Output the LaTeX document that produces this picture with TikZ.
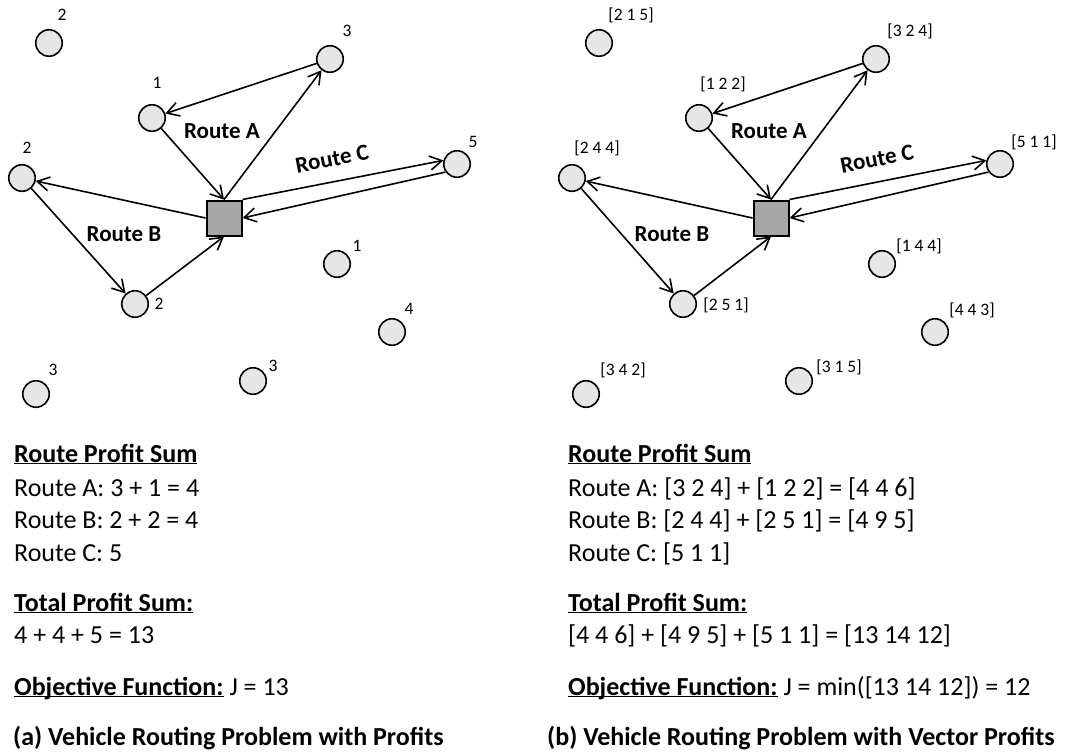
\documentclass[tikz,border=0pt]{standalone}
\usepackage{fontspec}
\setmainfont{Carlito}
\usetikzlibrary{arrows.meta}

\definecolor{custgray}{RGB}{230,230,230}
\definecolor{depotgray}{RGB}{166,166,166}
\newcommand{\hdr}[1]{\underline{\smash{#1}}}

\tikzset{
	cust/.style={circle, draw, line width=1.6pt, fill=custgray, minimum size=26.5pt, inner sep=0pt},
	depotbox/.style={rectangle, draw, line width=2pt, fill=depotgray, minimum size=35pt, inner sep=0pt},
	profit/.style={inner sep=0pt, font=\fontsize{17.5}{20}\selectfont},
	route/.style={-{Straight Barb[length=12pt,width=14pt,line width=1.6pt]}, line width=1.6pt},
	routelbl/.style={inner sep=0pt, font=\fontsize{23}{27}\selectfont\bfseries},
	txt/.style={anchor=base west, inner sep=0pt, font=\fontsize{26}{31}\selectfont},
	title/.style={anchor=base west, inner sep=0pt, font=\fontsize{26}{31}\selectfont\bfseries},
}

\begin{document}
\begin{tikzpicture}[x=1pt, y=-1pt]
	\useasboundingbox (0,0) rectangle (1072,753);

	% (a) Customers and depot
	\node[cust] (a1) at (49,43) {};
	\node[cust] (a2) at (330,59) {};
	\node[cust] (a3) at (152,118) {};
	\node[cust] (a4) at (22,178) {};
	\node[cust] (a5) at (457,164) {};
	\node[cust] (a6) at (135,304) {};
	\node[cust] (a7) at (337,264) {};
	\node[cust] (a8) at (392,332) {};
	\node[cust] (a9) at (36,394) {};
	\node[cust] (a10) at (253,381) {};
	\node[depotbox] (aD) at (224,218) {};

	% (a) Profits
	\node[profit] (a1p) at (62,15) {2};
	\node[profit] (a2p) at (347,31) {3};
	\node[profit] (a3p) at (157,83) {1};
	\node[profit] (a4p) at (27,148) {2};
	\node[profit] (a5p) at (473,142) {5};
	\node[profit] (a6p) at (159,304) {2};
	\node[profit] (a7p) at (357,246) {1};
	\node[profit] (a8p) at (409,309) {4};
	\node[profit] (a9p) at (53,370) {3};
	\node[profit] (a10p) at (273,366) {3};

	% (a) Routes
	\draw[route] (aD.north) -- (a2);
	\draw[route] (a2) -- (a3);
	\draw[route] (a3) -- (aD.north);
	\draw[route] (aD.west) -- (a4);
	\draw[route] (a4) -- (a6);
	\draw[route] (a6) -- (aD.south);
	\draw[route] (aD.north east) -- (a5.165);
	\draw[route] (a5.215) -- (aD.east);
	\node[routelbl] (aRA) at (222,131) {Route A};
	\node[routelbl] (aRB) at (124,234) {Route B};
	\node[routelbl, rotate=11] (aRC) at (332,159) {Route C};

	% (a) Sums
	\node[txt] (aT1) at (14,462) {\bfseries\hdr{Route Profit Sum}};
	\node[txt] (aT2) at (14,496) {Route A: 3 + 1 = 4};
	\node[txt] (aT3) at (14,528) {Route B: 2 + 2 = 4};
	\node[txt] (aT4) at (14,561) {Route C: 5};
	\node[txt] (aT5) at (14,611) {\bfseries\hdr{Total Profit Sum:}};
	\node[txt] (aT6) at (14,643) {4 + 4 + 5 = 13};
	\node[txt] (aT7) at (14,695) {{\bfseries\hdr{Objective Function:}} J = 13};
	\node[title] (aT8) at (13,745) {(a) Vehicle Routing Problem with Profits};

	% (b) Customers and depot
	\node[cust] (b1) at (599,43) {};
	\node[cust] (b2) at (876,59) {};
	\node[cust] (b3) at (699,118) {};
	\node[cust] (b4) at (572,178) {};
	\node[cust] (b5) at (1000,164) {};
	\node[cust] (b6) at (683,304) {};
	\node[cust] (b7) at (882,264) {};
	\node[cust] (b8) at (935,332) {};
	\node[cust] (b9) at (586,394) {};
	\node[cust] (b10) at (799,381) {};
	\node[depotbox] (bD) at (771,218) {};

	% (b) Vector profits
	\node[profit] (b1p) at (631,15) {[2 1 5]};
	\node[profit] (b2p) at (910,31) {[3 2 4]};
	\node[profit] (b3p) at (723,84) {[1 2 2]};
	\node[profit] (b4p) at (597,148) {[2 4 4]};
	\node[profit] (b5p) at (1034,142) {[5 1 1]};
	\node[profit] (b6p) at (726,305) {[2 5 1]};
	\node[profit] (b7p) at (919,246) {[1 4 4]};
	\node[profit] (b8p) at (972,310) {[4 4 3]};
	\node[profit] (b9p) at (623,370) {[3 4 2]};
	\node[profit] (b10p) at (839,367) {[3 1 5]};

	% (b) Routes
	\draw[route] (bD.north) -- (b2);
	\draw[route] (b2) -- (b3);
	\draw[route] (b3) -- (bD.north);
	\draw[route] (bD.west) -- (b4);
	\draw[route] (b4) -- (b6);
	\draw[route] (b6) -- (bD.south);
	\draw[route] (bD.north east) -- (b5.165);
	\draw[route] (b5.215) -- (bD.east);
	\node[routelbl] (bRA) at (769,131) {Route A};
	\node[routelbl] (bRB) at (672,234) {Route B};
	\node[routelbl, rotate=11] (bRC) at (877,159) {Route C};

	% (b) Sums
	\node[txt] (bT1) at (568,462) {\bfseries\hdr{Route Profit Sum}};
	\node[txt] (bT2) at (568,496) {Route A: [3 2 4] + [1 2 2] = [4 4 6]};
	\node[txt] (bT3) at (568,528) {Route B: [2 4 4] + [2 5 1] = [4 9 5]};
	\node[txt] (bT4) at (568,561) {Route C: [5 1 1]};
	\node[txt] (bT5) at (568,611) {\bfseries\hdr{Total Profit Sum:}};
	\node[txt] (bT6) at (568,643) {[4 4 6] + [4 9 5] + [5 1 1] = [13 14 12]};
	\node[txt] (bT7) at (568,695) {{\bfseries\hdr{Objective Function:}} J = min([13 14 12]) = 12};
	\node[title] (bT8) at (547,745) {(b) Vehicle Routing Problem with Vector Profits};
\end{tikzpicture}
\end{document}
